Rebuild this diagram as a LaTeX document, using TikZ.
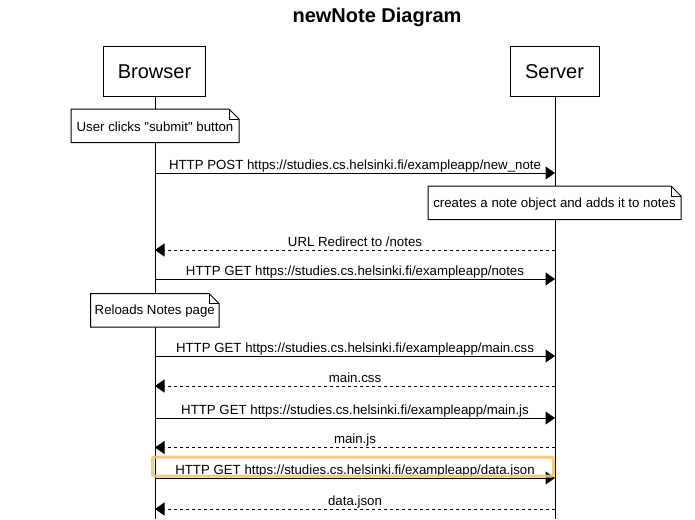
\documentclass[tikz,border=0pt]{standalone}
\usepackage{fontspec}
\setmainfont{Liberation Sans}[Ligatures=TeXOff]
\usetikzlibrary{arrows.meta,calc}
\definecolor{hiorange}{RGB}{246,196,112}
\begin{document}
\begin{tikzpicture}[x=1pt,y=-1pt,
  actor/.style={draw,line width=1pt,fill=white,minimum width=102pt,minimum height=49pt,inner sep=0pt,font=\fontsize{20}{24}\selectfont},
  lifeline/.style={line width=1pt},
  msg/.style={line width=1pt,-{Triangle[length=9.5pt,width=13pt]}},
  reply/.style={msg,dash pattern=on 3.5pt off 2.5pt},
  lbl/.style={anchor=base,inner sep=0pt,font=\fontsize{13.25}{15}\selectfont},
  notebox/.style={draw,line width=1pt,fill=white,line join=miter},
  notetext/.style={inner sep=0pt,font=\fontsize{13.25}{15}\selectfont},
  hilite/.style={draw=hiorange,draw opacity=0.9,line width=3pt,rounded corners=2pt}
]
\useasboundingbox (0,0) rectangle (695,519);
\node[font=\bfseries\fontsize{20}{24}\selectfont] (title) at (377,17) {newNote Diagram};
\node[actor] (browser) at (154.5,71.5) {Browser};
\node[actor,minimum width=89pt] (server) at (554.5,71.5) {Server};
\coordinate (bend) at (155,519);
\coordinate (send) at (555,519);
\draw[lifeline] (browser.south -| bend) -- (bend);
\draw[lifeline] (server.south -| send) -- (send);
% notes
\newcommand{\drawnote}[5]{%
  \draw[notebox] (#1,#2) -- (#3-10,#2) -- (#3,#2+10) -- (#3,#4) -- (#1,#4) -- cycle;
  \draw[line width=0.8pt] (#3-10,#2) -- (#3-10,#2+10) -- (#3,#2+10);
  \node[notetext] at ({(#1+#3)/2},{(#2+#4)/2+1}) {#5};}
\drawnote{71}{109}{239}{142.5}{User clicks "submit" button}
\drawnote{428}{186}{681}{219.5}{creates a note object and adds it to notes}
\drawnote{90.5}{293.5}{219}{327}{Reloads Notes page}
% message coordinates
\foreach \i/\y in {1/173,2/250,3/279,4/356,5/386,6/418,7/447.5,8/478,9/509}{
  \coordinate (b\i) at (155,\y);
  \coordinate (s\i) at (555,\y);
}
\newcommand{\msglabel}[3]{\node[lbl] at ($(b#1)!0.5!(s#1)+(#2,-4)$) {#3};}
\draw[msg] (b1) -- (s1);
\msglabel{1}{0}{HTTP POST https://studies.cs.helsinki.fi/exampleapp/new\_note}
\draw[reply] (s2) -- (b2);
\msglabel{2}{0}{URL Redirect to /notes}
\draw[msg] (b3) -- (s3);
\msglabel{3}{0}{HTTP GET https://studies.cs.helsinki.fi/exampleapp/notes}
\draw[msg] (b4) -- (s4);
\msglabel{4}{0}{HTTP GET https://studies.cs.helsinki.fi/exampleapp/main.css}
\draw[reply] (s5) -- (b5);
\msglabel{5}{0}{main.css}
\draw[msg] (b6) -- (s6);
\msglabel{6}{0}{HTTP GET https://studies.cs.helsinki.fi/exampleapp/main.js}
\draw[reply] (s7) -- (b7);
\msglabel{7}{0}{main.js}
\draw[msg] (b8) -- (s8);
\msglabel{8}{0}{HTTP GET https://studies.cs.helsinki.fi/exampleapp/data.json}
\draw[reply] (s9) -- (b9);
\msglabel{9}{0}{data.json}
% highlight
\draw[hilite] (152.5,457) rectangle (553.5,476);
\end{tikzpicture}
\end{document}
